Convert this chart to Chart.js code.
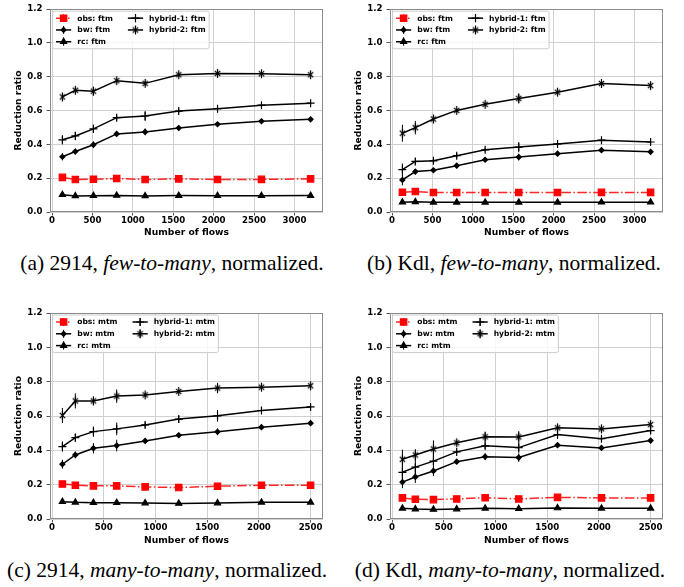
<!DOCTYPE html>
<html>
<head>
<meta charset="utf-8">
<script src="https://cdn.jsdelivr.net/npm/chart.js@4.4.0/dist/chart.umd.min.js"></script>
<style>
  body { margin: 0; width: 684px; height: 587px; background: #fff; position: relative; overflow: hidden; }
  canvas { position: absolute; }
  .cap { position: absolute; font-family: "Liberation Serif", "Times New Roman", serif; font-size: 21.5px; line-height: 1; white-space: nowrap; transform: translateX(-50%); color: #000; }
</style>
</head>
<body>
<canvas id="pa" width="340" height="245" style="left:0;top:0"></canvas>
<canvas id="pb" width="340" height="245" style="left:340px;top:0"></canvas>
<canvas id="pc" width="340" height="255" style="left:0;top:295px"></canvas>
<canvas id="pd" width="340" height="255" style="left:340px;top:295px"></canvas>
<div class="cap" style="left:172px;top:253px">(a) 2914, <i>few-to-many</i>, normalized.</div>
<div class="cap" style="left:514px;top:253px">(b) Kdl, <i>few-to-many</i>, normalized.</div>
<div class="cap" style="left:167px;top:560px">(c) 2914, <i>many-to-many</i>, normalized.</div>
<div class="cap" style="left:510px;top:560px">(d) Kdl, <i>many-to-many</i>, normalized.</div>
<script>
// number of flows on the x axis
const flowsFtm = [128, 288, 512, 800, 1152, 1568, 2048, 2592, 3200];
const flowsMtm = [100, 225, 400, 625, 900, 1225, 1600, 2025, 2500];
const xTicksFtm = [0, 500, 1000, 1500, 2000, 2500, 3000];
const xTicksMtm = [0, 500, 1000, 1500, 2000, 2500];
const yTicks = [0, 0.2, 0.4, 0.6, 0.8, 1.0, 1.2];

// (a) 2914, few-to-many
const aObs  = [0.205, 0.192, 0.194, 0.198, 0.192, 0.196, 0.192, 0.193, 0.196];
const aBw   = [0.327, 0.358, 0.398, 0.462, 0.474, 0.497, 0.519, 0.537, 0.548];
const aRc   = [0.102, 0.095, 0.096, 0.098, 0.095, 0.097, 0.096, 0.096, 0.097];
const aHyb1 = [0.427, 0.450, 0.492, 0.558, 0.568, 0.597, 0.611, 0.632, 0.644];
const aHyb2 = [0.681, 0.720, 0.715, 0.777, 0.761, 0.812, 0.820, 0.818, 0.812];
const aBwErr   = [0.022, 0.018, 0.020, 0.010, 0.020, 0.010, 0.008, 0.010, 0.008];
const aHyb1Err = [0.027, 0.025, 0.024, 0.015, 0.030, 0.012, 0.010, 0.012, 0.012];
const aHyb2Err = [0.020, 0.015, 0.025, 0.010, 0.012, 0.008, 0.006, 0.006, 0.006];

// (b) Kdl, few-to-many
const bObs  = [0.117, 0.121, 0.115, 0.115, 0.115, 0.115, 0.115, 0.116, 0.116];
const bBw   = [0.190, 0.239, 0.247, 0.274, 0.309, 0.325, 0.345, 0.366, 0.356];
const bRc   = [0.058, 0.060, 0.057, 0.057, 0.057, 0.057, 0.057, 0.058, 0.058];
const bHyb1 = [0.251, 0.299, 0.303, 0.333, 0.368, 0.384, 0.403, 0.425, 0.414];
const bHyb2 = [0.466, 0.499, 0.550, 0.601, 0.637, 0.672, 0.709, 0.760, 0.748];
const bBwErr   = [0.032, 0.015, 0.012, 0.015, 0.010, 0.020, 0.010, 0.010, 0.012];
const bHyb1Err = [0.036, 0.020, 0.012, 0.015, 0.010, 0.030, 0.010, 0.010, 0.012];
const bHyb2Err = [0.050, 0.040, 0.012, 0.008, 0.010, 0.030, 0.010, 0.015, 0.015];

// (c) 2914, many-to-many
const cObs  = [0.204, 0.197, 0.193, 0.193, 0.187, 0.183, 0.191, 0.197, 0.197];
const cBw   = [0.319, 0.373, 0.412, 0.428, 0.455, 0.488, 0.508, 0.535, 0.558];
const cRc   = [0.101, 0.097, 0.095, 0.095, 0.093, 0.091, 0.093, 0.097, 0.097];
const cHyb1 = [0.422, 0.474, 0.509, 0.525, 0.548, 0.582, 0.601, 0.632, 0.653];
const cHyb2 = [0.603, 0.688, 0.688, 0.716, 0.723, 0.743, 0.763, 0.768, 0.776];
const cBwErr   = [0.026, 0.020, 0.030, 0.034, 0.010, 0.015, 0.020, 0.008, 0.008];
const cHyb1Err = [0.030, 0.024, 0.030, 0.037, 0.015, 0.020, 0.034, 0.008, 0.006];
const cHyb2Err = [0.044, 0.044, 0.024, 0.039, 0.010, 0.010, 0.030, 0.010, 0.010];

// (d) Kdl, many-to-many
const dObs  = [0.123, 0.115, 0.113, 0.117, 0.124, 0.117, 0.126, 0.123, 0.123];
const dBw   = [0.215, 0.245, 0.280, 0.334, 0.363, 0.358, 0.430, 0.414, 0.457];
const dRc   = [0.062, 0.058, 0.056, 0.058, 0.062, 0.060, 0.064, 0.062, 0.062];
const dHyb1 = [0.272, 0.302, 0.337, 0.391, 0.426, 0.416, 0.492, 0.468, 0.515];
const dHyb2 = [0.348, 0.373, 0.408, 0.444, 0.479, 0.478, 0.531, 0.525, 0.550];
const dBwErr   = [0.035, 0.035, 0.030, 0.010, 0.020, 0.025, 0.015, 0.010, 0.015];
const dHyb1Err = [0.050, 0.050, 0.050, 0.010, 0.020, 0.030, 0.025, 0.020, 0.020];
const dHyb2Err = [0.056, 0.034, 0.050, 0.010, 0.030, 0.034, 0.015, 0.020, 0.015];

const FONT = '"DejaVu Sans", sans-serif';

// 'x' with a vertical stroke, used for hybrid-2
function asteriskMarker() {
  const c = document.createElement('canvas');
  c.width = 11; c.height = 11;
  const g = c.getContext('2d');
  g.strokeStyle = '#000';
  g.lineWidth = 1.2;
  g.beginPath();
  g.moveTo(5.5, 1); g.lineTo(5.5, 10);
  g.moveTo(2.8, 2.8); g.lineTo(8.2, 8.2);
  g.moveTo(8.2, 2.8); g.lineTo(2.8, 8.2);
  g.stroke();
  return c;
}
const asterisk = asteriskMarker();

const seriesStyle = {
  obs:  { name: 'obs',      color: '#ff0000', dash: [9.6, 2.4, 1.5, 2.4], point: 'rect',     r: 4.5 },
  bw:   { name: 'bw',       color: '#000000', dash: [], point: 'rectRot',  r: 2.5 },
  rc:   { name: 'rc',       color: '#000000', dash: [], point: 'triangle', r: 3.5 },
  hyb1: { name: 'hybrid-1', color: '#000000', dash: [], point: 'cross',    r: 4 },
  hyb2: { name: 'hybrid-2', color: '#000000', dash: [], point: asterisk,   r: 5 }
};

function makeDataset(key, tag, flows, vals, errs) {
  const s = seriesStyle[key];
  return {
    label: s.name + ': ' + tag,
    data: flows.map((x, i) => ({ x, y: vals[i] })),
    errors: errs || null,
    borderColor: key === 'obs' ? 'rgba(255,0,0,0.85)' : s.color,
    markColor: s.color,
    backgroundColor: s.color,
    borderWidth: 1.5,
    borderDash: s.dash,
    pointStyle: s.point,
    pointRadius: s.r,
    pointHoverRadius: s.r,
    pointBorderWidth: 1.2,
    pointBackgroundColor: s.color,
    pointBorderColor: s.color,
    tension: 0,
    fill: false
  };
}

// full box round the plot area
const frame = {
  id: 'frame',
  beforeDatasetsDraw(chart) {
    const { ctx, chartArea: a } = chart;
    ctx.save();
    ctx.strokeStyle = '#8c8c8c';
    ctx.lineWidth = 1;
    ctx.strokeRect(Math.round(a.left) + 0.5, Math.round(a.top) + 0.5,
                   Math.round(a.right - a.left) - 1, Math.round(a.bottom - a.top) - 1);
    ctx.restore();
  }
};

// vertical error bars
const errorBars = {
  id: 'errorBars',
  beforeDatasetsDraw(chart) {
    const { ctx, scales: { x, y } } = chart;
    ctx.save();
    ctx.lineWidth = 1;
    chart.data.datasets.forEach(ds => {
      if (!ds.errors) return;
      ctx.strokeStyle = ds.markColor;
      ds.data.forEach((p, i) => {
        const px = x.getPixelForValue(p.x);
        ctx.beginPath();
        ctx.moveTo(px, y.getPixelForValue(p.y - ds.errors[i]));
        ctx.lineTo(px, y.getPixelForValue(p.y + ds.errors[i]));
        ctx.stroke();
      });
    });
    ctx.restore();
  }
};

// two-column legend in the upper left corner
const boxLegend = {
  id: 'boxLegend',
  afterDraw(chart) {
    const { ctx, chartArea: a } = chart;
    const ds = chart.data.datasets;
    const cols = [[0, 1, 2], [3, 4]];
    const fs = 7.6, handleLen = 15.2, textPad = 6, colSpace = 15, rowPitch = 11.8;
    ctx.save();
    ctx.font = 'bold ' + fs + 'px ' + FONT;
    const boxX = a.left + 2.5, boxY = a.top + 2;
    const colX = [];
    let x = boxX + 3.5;
    cols.forEach(col => {
      colX.push(x);
      const w = Math.max(...col.map(i => ctx.measureText(ds[i].label).width));
      x += handleLen + textPad + w + colSpace;
    });
    const boxW = x - colSpace + 3.5 - boxX;
    const boxH = 14 + rowPitch * 2;
    ctx.fillStyle = 'rgba(255,255,255,0.8)';
    ctx.strokeStyle = '#cccccc';
    ctx.lineWidth = 1;
    ctx.beginPath();
    ctx.roundRect(boxX, boxY, boxW, boxH, 2);
    ctx.fill();
    ctx.stroke();

    cols.forEach((col, c) => {
      col.forEach((i, r) => {
        const d = ds[i];
        const hx = colX[c], cy = boxY + 7 + r * rowPitch, mx = hx + handleLen / 2;
        ctx.strokeStyle = d.borderColor;
        ctx.lineWidth = 1.5;
        ctx.setLineDash(d.borderDash);
        ctx.beginPath();
        ctx.moveTo(hx, cy); ctx.lineTo(hx + handleLen, cy);
        ctx.stroke();
        ctx.setLineDash([]);
        ctx.strokeStyle = d.markColor;
        ctx.lineWidth = 1;
        ctx.beginPath();
        ctx.moveTo(mx, cy - 4); ctx.lineTo(mx, cy + 4);
        ctx.stroke();
        ctx.fillStyle = d.markColor;
        ctx.lineWidth = 1.2;
        Chart.helpers.drawPoint(ctx, { pointStyle: d.pointStyle, radius: d.pointRadius, borderWidth: 1.2, rotation: 0 }, mx, cy);
        ctx.fillStyle = '#000';
        ctx.textBaseline = 'middle';
        ctx.textAlign = 'left';
        ctx.fillText(d.label, hx + handleLen + textPad, cy + 0.5);
      });
    });
    ctx.restore();
  }
};

function makePanel(id, tag, flows, xTicks, series, geom) {
  const lo = Math.min(...flows), hi = Math.max(...flows), m = (hi - lo) * 0.05;
  const tickFont = { family: FONT, size: 8.6, weight: 'bold' };
  const titleFont = { family: FONT, size: 9.2, weight: 'bold' };
  new Chart(document.getElementById(id), {
    type: 'line',
    data: {
      datasets: [
        makeDataset('obs', tag, flows, series.obs),
        makeDataset('bw', tag, flows, series.bw, series.bwErr),
        makeDataset('rc', tag, flows, series.rc),
        makeDataset('hyb1', tag, flows, series.hyb1, series.hyb1Err),
        makeDataset('hyb2', tag, flows, series.hyb2, series.hyb2Err)
      ]
    },
    options: {
      responsive: false,
      animation: false,
      devicePixelRatio: 1,
      layout: { padding: { top: geom.top, right: 17, left: 0, bottom: 0 } },
      plugins: { legend: { display: false }, tooltip: { enabled: false } },
      scales: {
        x: {
          type: 'linear',
          min: lo - m,
          max: hi + m,
          afterBuildTicks: s => { s.ticks = xTicks.map(v => ({ value: v })); },
          afterFit: s => { s.height = geom.xh; },
          grid: { color: '#d0d0d0', lineWidth: 1, tickLength: 3.5, tickColor: '#555', tickWidth: 1 },
          border: { display: false },
          ticks: { color: '#000', font: tickFont, padding: 0.5, autoSkip: false, maxRotation: 0, callback: v => String(v) },
          title: { display: true, text: 'Number of flows', color: '#000', font: titleFont, padding: { top: 0, bottom: geom.tb } }
        },
        y: {
          min: 0,
          max: 1.2,
          afterBuildTicks: s => { s.ticks = yTicks.map(v => ({ value: v })); },
          afterFit: s => { s.width = 50; },
          grid: { color: '#d0d0d0', lineWidth: 1, tickLength: 3.5, tickColor: '#555', tickWidth: 1 },
          border: { display: false },
          ticks: { color: '#000', font: tickFont, padding: 4, autoSkip: false, callback: v => v.toFixed(1) },
          title: { display: true, text: 'Reduction ratio', color: '#000', font: titleFont, padding: { top: 13.5, bottom: 0 } }
        }
      }
    },
    plugins: [frame, errorBars, boxLegend]
  });
}

const topRow = { top: 7, xh: 33, tb: 6.5 };
const bottomRow = { top: 18, xh: 31, tb: 3.5 };

makePanel('pa', 'ftm', flowsFtm, xTicksFtm,
  { obs: aObs, bw: aBw, rc: aRc, hyb1: aHyb1, hyb2: aHyb2, bwErr: aBwErr, hyb1Err: aHyb1Err, hyb2Err: aHyb2Err }, topRow);
makePanel('pb', 'ftm', flowsFtm, xTicksFtm,
  { obs: bObs, bw: bBw, rc: bRc, hyb1: bHyb1, hyb2: bHyb2, bwErr: bBwErr, hyb1Err: bHyb1Err, hyb2Err: bHyb2Err }, topRow);
makePanel('pc', 'mtm', flowsMtm, xTicksMtm,
  { obs: cObs, bw: cBw, rc: cRc, hyb1: cHyb1, hyb2: cHyb2, bwErr: cBwErr, hyb1Err: cHyb1Err, hyb2Err: cHyb2Err }, bottomRow);
makePanel('pd', 'mtm', flowsMtm, xTicksMtm,
  { obs: dObs, bw: dBw, rc: dRc, hyb1: dHyb1, hyb2: dHyb2, bwErr: dBwErr, hyb1Err: dHyb1Err, hyb2Err: dHyb2Err }, bottomRow);
</script>
</body>
</html>
